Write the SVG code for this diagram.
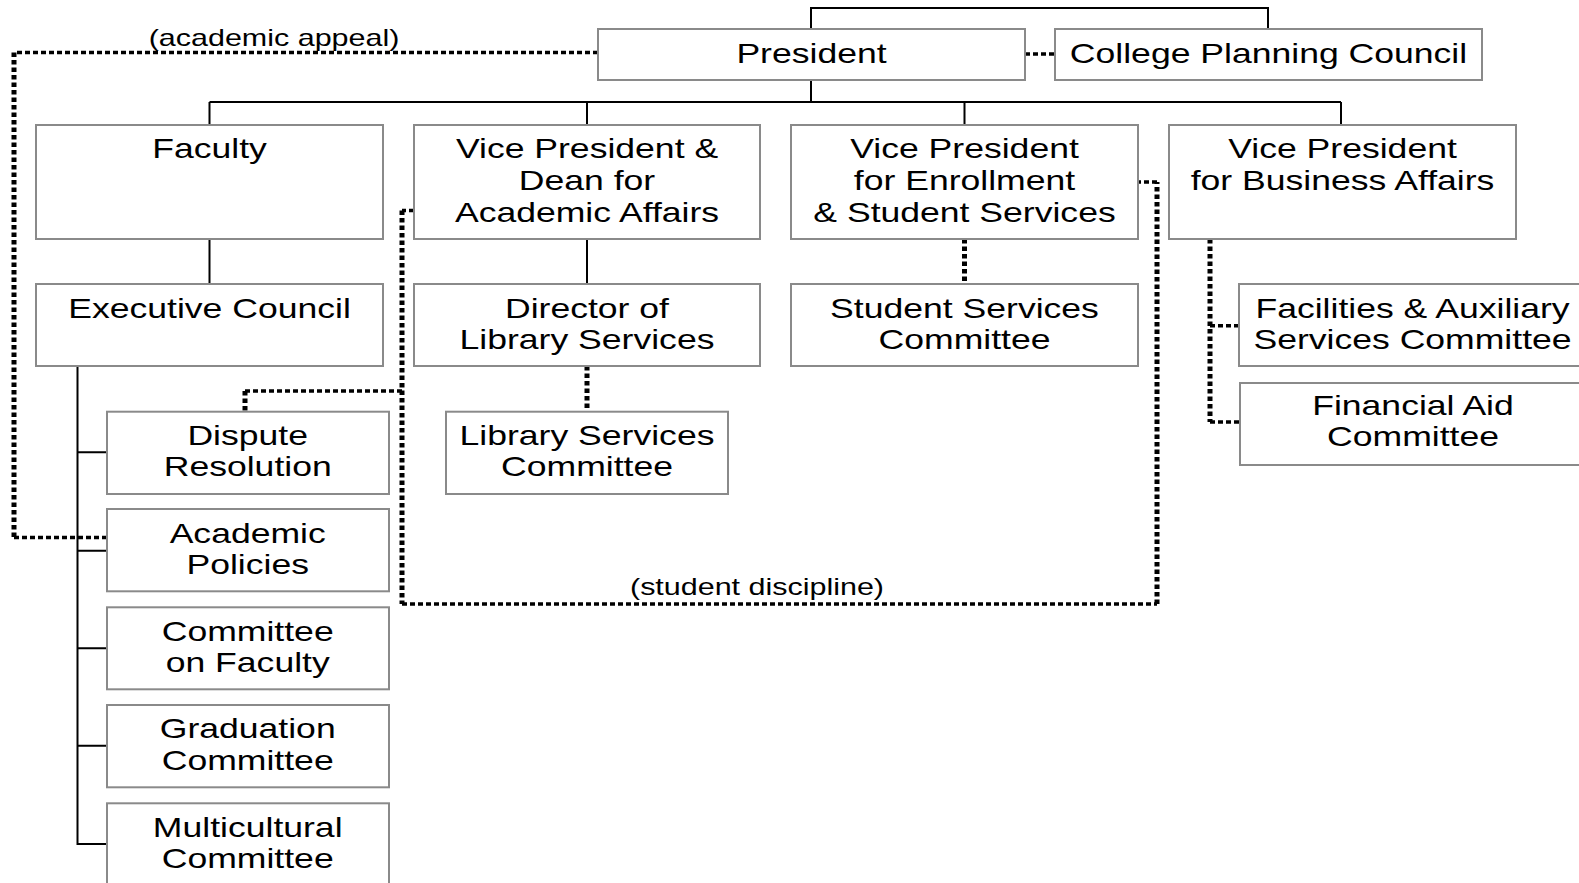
<svg xmlns="http://www.w3.org/2000/svg" width="1579" height="883" viewBox="0 0 1579 883">
<style>
.box{fill:#fff;stroke:#8a8a8a;stroke-width:2}
.t{font-family:"Liberation Sans",Arial,Helvetica,sans-serif;font-size:28px;fill:#000;text-anchor:middle}
.lbl{font-family:"Liberation Sans",Arial,Helvetica,sans-serif;font-size:24px;fill:#000;text-anchor:middle}
.solid{fill:none;stroke:#000;stroke-width:2}
.dh{fill:none;stroke:#000;stroke-width:3.5;stroke-dasharray:5 3}
.dv{fill:none;stroke:#000;stroke-width:5;stroke-dasharray:4.5 3}
</style>
<rect width="1579" height="883" fill="#fff"/>
<g id="connectors">
<path class="solid" d="M811 29V8H1268V29"/>
<path class="solid" d="M811 80V102"/>
<path class="solid" d="M209.5 102H1341"/>
<path class="solid" d="M209.5 102V125M587 102V125M964.5 102V125M1341 102V125"/>
<path class="solid" d="M209.5 239V284"/>
<path class="solid" d="M587 239V284"/>
<path class="solid" d="M77.5 366V845"/>
<path class="solid" d="M77.5 452.3H107M77.5 550.7H107M77.5 648.3H107M77.5 745.7H107M77.5 844H107"/>
<path class="dh" d="M1025 54H1055"/>
<path class="dh" d="M598 52.5H14"/>
<path class="dv" d="M14 52.5V537.5"/>
<path class="dh" d="M14 537.5H107"/>
<path class="dh" d="M414 210.5H402"/>
<path class="dv" d="M402 210.5V604"/>
<path class="dh" d="M402 604H1157"/>
<path class="dv" d="M1157 604V182"/>
<path class="dh" d="M1157 182H1138"/>
<path class="dh" d="M402 391H245"/>
<path class="dv" d="M245 391V411.7"/>
<path class="dv" d="M587 366V411.7"/>
<path class="dv" d="M964.5 239V284"/>
<path class="dv" d="M1210 239V422"/>
<path class="dh" d="M1210 325.7H1239M1210 422H1240"/>
<text class="lbl" transform="matrix(1.27 0 0 1 274 46)">(academic appeal)</text>
<text class="lbl" transform="matrix(1.27 0 0 1 757 595)">(student discipline)</text>
</g>
<g id="n-president">
<rect class="box" x="598" y="29" width="427" height="51"/>
<text class="t" transform="matrix(1.27 0 0 1 811.5 63)">President</text>
</g>
<g id="n-cpc">
<rect class="box" x="1055" y="29" width="427" height="51"/>
<text class="t" transform="matrix(1.27 0 0 1 1268.5 63)">College Planning Council</text>
</g>
<g id="n-faculty">
<rect class="box" x="36" y="125" width="347" height="114"/>
<text class="t" transform="matrix(1.27 0 0 1 209.5 157.5)">Faculty</text>
</g>
<g id="n-vpaa">
<rect class="box" x="414" y="125" width="346" height="114"/>
<text class="t" transform="matrix(1.27 0 0 1 587 157.5)"><tspan x="0" y="0">Vice President &amp;</tspan><tspan x="0" y="32.5">Dean for</tspan><tspan x="0" y="65">Academic Affairs</tspan></text>
</g>
<g id="n-vpes">
<rect class="box" x="791" y="125" width="347" height="114"/>
<text class="t" transform="matrix(1.27 0 0 1 964.5 157.5)"><tspan x="0" y="0">Vice President</tspan><tspan x="0" y="32.5">for Enrollment</tspan><tspan x="0" y="65">&amp; Student Services</tspan></text>
</g>
<g id="n-vpba">
<rect class="box" x="1169" y="125" width="347" height="114"/>
<text class="t" transform="matrix(1.27 0 0 1 1342.5 157.5)"><tspan x="0" y="0">Vice President</tspan><tspan x="0" y="32.5">for Business Affairs</tspan></text>
</g>
<g id="n-exec">
<rect class="box" x="36" y="284" width="347" height="82"/>
<text class="t" transform="matrix(1.27 0 0 1 209.5 317.5)">Executive Council</text>
</g>
<g id="n-dls">
<rect class="box" x="414" y="284" width="346" height="82"/>
<text class="t" transform="matrix(1.27 0 0 1 587 317.5)"><tspan x="0" y="0">Director of</tspan><tspan x="0" y="32">Library Services</tspan></text>
</g>
<g id="n-ssc">
<rect class="box" x="791" y="284" width="347" height="82"/>
<text class="t" transform="matrix(1.27 0 0 1 964.5 317.5)"><tspan x="0" y="0">Student Services</tspan><tspan x="0" y="32">Committee</tspan></text>
</g>
<g id="n-facilities">
<rect class="box" x="1239" y="284" width="347" height="82"/>
<text class="t" transform="matrix(1.27 0 0 1 1412.5 317.5)"><tspan x="0" y="0">Facilities &amp; Auxiliary</tspan><tspan x="0" y="32">Services Committee</tspan></text>
</g>
<g id="n-finaid">
<rect class="box" x="1240" y="383" width="347" height="82"/>
<text class="t" transform="matrix(1.27 0 0 1 1413 414.5)"><tspan x="0" y="0">Financial Aid</tspan><tspan x="0" y="32">Committee</tspan></text>
</g>
<g id="n-lsc">
<rect class="box" x="446" y="411.7" width="282" height="82.3"/>
<text class="t" transform="matrix(1.27 0 0 1 587 444.5)"><tspan x="0" y="0">Library Services</tspan><tspan x="0" y="32">Committee</tspan></text>
</g>
<g id="n-dispute">
<rect class="box" x="107" y="411.7" width="282" height="82.3"/>
<text class="t" transform="matrix(1.27 0 0 1 247.7 444.5)"><tspan x="0" y="0">Dispute</tspan><tspan x="0" y="32">Resolution</tspan></text>
</g>
<g id="n-academic">
<rect class="box" x="107" y="509" width="282" height="82.3"/>
<text class="t" transform="matrix(1.27 0 0 1 247.7 542.5)"><tspan x="0" y="0">Academic</tspan><tspan x="0" y="32">Policies</tspan></text>
</g>
<g id="n-cof">
<rect class="box" x="107" y="607.3" width="282" height="82"/>
<text class="t" transform="matrix(1.27 0 0 1 247.7 640.5)"><tspan x="0" y="0">Committee</tspan><tspan x="0" y="32">on Faculty</tspan></text>
</g>
<g id="n-grad">
<rect class="box" x="107" y="705" width="282" height="82.3"/>
<text class="t" transform="matrix(1.27 0 0 1 247.7 738)"><tspan x="0" y="0">Graduation</tspan><tspan x="0" y="32">Committee</tspan></text>
</g>
<g id="n-multi">
<rect class="box" x="107" y="803.3" width="282" height="82"/>
<text class="t" transform="matrix(1.27 0 0 1 247.7 836.5)"><tspan x="0" y="0">Multicultural</tspan><tspan x="0" y="32">Committee</tspan></text>
</g>
</svg>
